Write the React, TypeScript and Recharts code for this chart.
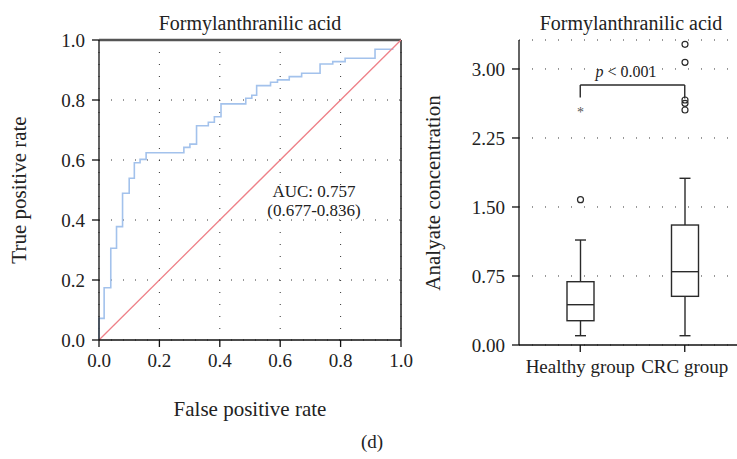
import React from 'react';
import { ComposedChart, Line, Bar, XAxis, YAxis, CartesianGrid, ReferenceLine } from 'recharts';

// ROC curve (step corners)
const fpr = [0, 0, 0.017, 0.039, 0.058, 0.078, 0.1, 0.117, 0.136, 0.156, 0.281, 0.301, 0.323, 0.362, 0.382, 0.404, 0.486, 0.506, 0.522, 0.568, 0.591, 0.63, 0.671, 0.732, 0.774, 0.815, 0.914, 0.975];
const tpr = [0, 0.072, 0.174, 0.306, 0.378, 0.489, 0.539, 0.591, 0.602, 0.624, 0.642, 0.653, 0.714, 0.726, 0.744, 0.787, 0.806, 0.816, 0.848, 0.859, 0.867, 0.878, 0.889, 0.92, 0.928, 0.939, 0.969, 0.969];
const chanceX = [0, 1];
const chanceY = [0, 1];
const rocTicks = [0, 0.2, 0.4, 0.6, 0.8, 1.0];

// box plot per group
const groups = ['Healthy group', 'CRC group'];
const whiskerLow = [0.101, 0.101];
const q1 = [0.264, 0.529];
const median = [0.438, 0.797];
const q3 = [0.688, 1.304];
const whiskerHigh = [1.141, 1.812];
const outliers = [[1.58], [3.268, 3.072, 2.663, 2.627, 2.554]];
const extremes = [[2.565], []];
const concTicks = [0, 0.75, 1.5, 2.25, 3.0];
const bracketTop = 2.826;
const bracketEnds = [2.69, 2.68];

const FONT = "'Liberation Serif', 'DejaVu Serif', serif";
const INK = '#222';

const rocData = fpr.map((x, i) => ({ x, y: tpr[i] }));
const chanceData = chanceX.map((x, i) => ({ x, y: chanceY[i] }));

const boxData = groups.map((g, i) => ({
  group: g,
  range: [whiskerLow[i], whiskerHigh[i]],
  lo: whiskerLow[i],
  hi: whiskerHigh[i],
  q1: q1[i],
  med: median[i],
  q3: q3[i],
  out: outliers[i],
  ext: extremes[i],
}));

// whole box + whiskers + outliers, scaled from the bar's own pixel span
const BoxShape = (props: any) => {
  const { x, y, width, height } = props;
  const d = props.payload || props;
  const top = Math.min(y, y + height);
  const bottom = Math.max(y, y + height);
  const k = (bottom - top) / (d.hi - d.lo);
  const py = (v: number) => bottom - (v - d.lo) * k;
  const cx = x + width / 2;
  const cap = 5.5;
  return (
    <g stroke="#2a2a2a" strokeWidth={1.4} fill="none">
      <line x1={cx} x2={cx} y1={py(d.lo)} y2={py(d.q1)} />
      <line x1={cx} x2={cx} y1={py(d.q3)} y2={py(d.hi)} />
      <line x1={cx - cap} x2={cx + cap} y1={py(d.lo)} y2={py(d.lo)} />
      <line x1={cx - cap} x2={cx + cap} y1={py(d.hi)} y2={py(d.hi)} />
      <rect x={x} y={py(d.q3)} width={width} height={py(d.q1) - py(d.q3)} fill="#fff" />
      <line x1={x} x2={x + width} y1={py(d.med)} y2={py(d.med)} />
      {d.out.map((v: number, i: number) => (
        <circle key={i} cx={cx} cy={py(v)} r={3} strokeWidth={1.2} />
      ))}
      {d.ext.map((v: number, i: number) => (
        <text key={'e' + i} x={cx} y={py(v) + 8} textAnchor="middle" fontSize={14} fill="#555" stroke="none" fontFamily={FONT}>*</text>
      ))}
    </g>
  );
};

const tickStyle = { fontSize: 19, fill: INK, fontFamily: FONT };
const axisStyle = { stroke: '#111', strokeWidth: 1.3 };

export default function App() {
  return (
    <div style={{ position: 'absolute', left: 0, top: 0, width: 737, height: 459, background: '#fff', fontFamily: FONT }}>
      <div style={{ position: 'absolute', left: 0, top: 0 }}>
        <ComposedChart width={420} height={380} margin={{ top: 40, right: 19, left: 39, bottom: 10 }}>
          <CartesianGrid stroke="#333" strokeDasharray="1 11" />
          <XAxis type="number" dataKey="x" domain={[0, 1]} ticks={rocTicks} tickFormatter={(v: number) => v.toFixed(1)}
            tick={tickStyle} tickSize={7} tickMargin={7} axisLine={axisStyle} tickLine={axisStyle} height={30} />
          <YAxis type="number" dataKey="y" domain={[0, 1]} ticks={rocTicks} tickFormatter={(v: number) => v.toFixed(1)}
            tick={tickStyle} tickSize={7} tickMargin={7} axisLine={axisStyle} tickLine={axisStyle} width={60} />
          <ReferenceLine y={1} stroke="#555" strokeWidth={2.5} />
          <ReferenceLine x={1} stroke="#222" strokeWidth={1.5} />
          <Line data={rocData} dataKey="y" type="stepAfter" stroke="#a3c2ec" strokeWidth={1.6} dot={false} isAnimationActive={false} />
          <Line data={chanceData} dataKey="y" type="linear" stroke="#ee8088" strokeWidth={1.3} dot={false} isAnimationActive={false} />
        </ComposedChart>
      </div>
      <div style={{ position: 'absolute', left: 400, top: 0 }}>
        <ComposedChart width={337} height={400} data={boxData} margin={{ top: 40, right: 0, left: 59, bottom: 25 }}>
          <CartesianGrid stroke="#333" strokeDasharray="1 12" vertical={false} />
          <XAxis dataKey="group" type="category" padding={{ left: 9, right: 0 }} tick={tickStyle} tickSize={7} tickMargin={8}
            axisLine={axisStyle} tickLine={axisStyle} height={30} />
          <YAxis type="number" domain={[0, 3.315]} ticks={concTicks} tickFormatter={(v: number) => v.toFixed(2)}
            tick={tickStyle} tickSize={7} tickMargin={7} axisLine={axisStyle} tickLine={axisStyle} width={60} />
          <Bar dataKey="range" barSize={27} shape={BoxShape} isAnimationActive={false} />
          <ReferenceLine segment={[{ x: groups[0], y: bracketTop }, { x: groups[1], y: bracketTop }]} stroke="#2a2a2a" strokeWidth={1.4} />
          <ReferenceLine segment={[{ x: groups[0], y: bracketEnds[0] }, { x: groups[0], y: bracketTop }]} stroke="#2a2a2a" strokeWidth={1.4} />
          <ReferenceLine segment={[{ x: groups[1], y: bracketEnds[1] }, { x: groups[1], y: bracketTop }]} stroke="#2a2a2a" strokeWidth={1.4} />
        </ComposedChart>
      </div>
      <svg width={737} height={459} style={{ position: 'absolute', left: 0, top: 0, pointerEvents: 'none' }} fontFamily={FONT} fill={INK}>
        <text x={250} y={30} textAnchor="middle" fontSize={20}>Formylanthranilic acid</text>
        <text x={631} y={30} textAnchor="middle" fontSize={20}>Formylanthranilic acid</text>
        <text x={314} y={197} textAnchor="middle" fontSize={17}>AUC: 0.757</text>
        <text x={314} y={216} textAnchor="middle" fontSize={17}>(0.677-0.836)</text>
        <text x={626} y={77} textAnchor="middle" fontSize={16}><tspan fontStyle="italic">p</tspan> &lt; 0.001</text>
        <text transform="translate(26,190) rotate(-90)" textAnchor="middle" fontSize={21}>True positive rate</text>
        <text transform="translate(440,193) rotate(-90)" textAnchor="middle" fontSize={21}>Analyate concentration</text>
        <text x={250} y={416} textAnchor="middle" fontSize={21}>False positive rate</text>
        <text x={372} y={448} textAnchor="middle" fontSize={19}>(d)</text>
      </svg>
    </div>
  );
}
